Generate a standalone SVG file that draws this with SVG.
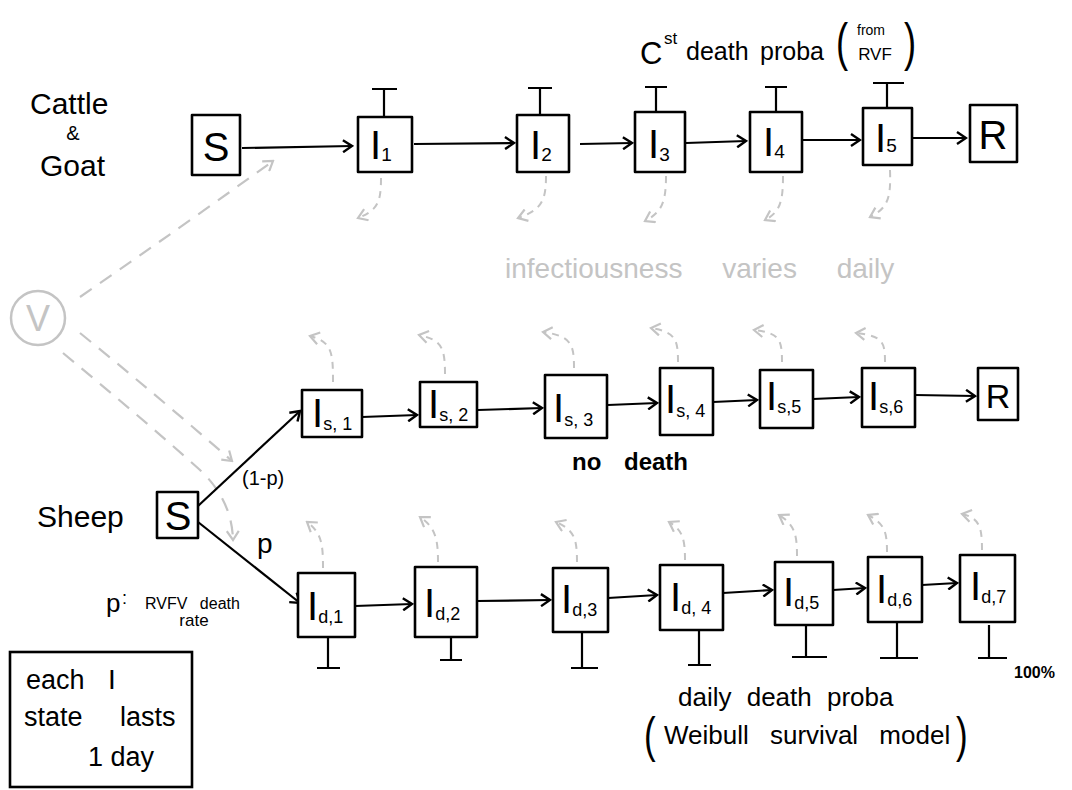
<svg xmlns="http://www.w3.org/2000/svg" width="1072" height="790" viewBox="0 0 1072 790">
<style>
text{font-family:"Liberation Sans",Arial,sans-serif;fill:#000}
.box{fill:#fff;stroke:#000;stroke-width:2.6;stroke-linejoin:round}
.lbl{font-size:40px}
.sub{font-size:19px}
.sub2{font-size:18px}
.arr{fill:none;stroke:#000;stroke-width:2.2;marker-end:url(#ah)}
.bar{fill:none;stroke:#000;stroke-width:2.2}
.gd{fill:none;stroke:#c4c4c4;stroke-width:2;stroke-dasharray:7 6;marker-end:url(#gh)}
.gdl{fill:none;stroke:#c4c4c4;stroke-width:2.2;stroke-dasharray:14 10;marker-end:url(#gh)}
.grey{fill:#c4c4c4}
</style>
<defs>
<marker id="ah" markerUnits="userSpaceOnUse" markerWidth="14" markerHeight="14" refX="12" refY="7" orient="auto">
<path d="M3,1 L12,7 L3,13" fill="none" stroke="#000" stroke-width="2.4"/>
</marker>
<marker id="gh" markerUnits="userSpaceOnUse" markerWidth="14" markerHeight="14" refX="12" refY="7" orient="auto">
<path d="M3,1 L12,7 L3,13" fill="none" stroke="#c4c4c4" stroke-width="2.2"/>
</marker>
</defs>
<rect width="1072" height="790" fill="#fff"/>

<!-- labels -->
<g id="label-cattle">
<text x="30" y="114" font-size="30">Cattle</text>
<text x="73" y="140" font-size="20" text-anchor="middle">&amp;</text>
<text x="40" y="176" font-size="30">Goat</text>
</g>
<g id="label-const-death">
<text x="640" y="64" font-size="31">C</text>
<text x="664" y="44" font-size="17">st</text>
<text x="686" y="60" font-size="25">death</text>
<text x="760" y="60" font-size="25">proba</text>
<text x="836" y="60" font-size="52" transform="translate(836,60) scale(0.7,1) translate(-836,-60)">(</text>
<text x="871" y="35" font-size="14" text-anchor="middle">from</text>
<text x="875" y="60" font-size="17" text-anchor="middle">RVF</text>
<text x="904" y="60" font-size="52" transform="translate(904,60) scale(0.7,1) translate(-904,-60)">)</text>
</g>
<g id="label-infectiousness">
<text x="505" y="278" font-size="28" class="grey" word-spacing="32">infectiousness varies daily</text>
</g>
<g id="label-sheep"><text x="37" y="527" font-size="30">Sheep</text></g>
<g id="label-p-def">
<text x="106" y="612" font-size="26">p</text>
<text x="122" y="604" font-size="18">:</text>
<text x="145" y="609" font-size="16" word-spacing="8">RVFV death</text>
<text x="194" y="626" font-size="17" text-anchor="middle">rate</text>
</g>
<g id="label-no-death"><text x="572" y="470" font-size="24" font-weight="bold" word-spacing="16">no death</text></g>
<g id="label-daily">
<text x="678" y="706" font-size="26" word-spacing="8">daily death proba</text>
<text x="644" y="752" font-size="50" transform="translate(644,752) scale(0.7,1) translate(-644,-752)">(</text>
<text x="664" y="744" font-size="26" word-spacing="14">Weibull survival model</text>
<text x="956" y="752" font-size="50" transform="translate(956,752) scale(0.7,1) translate(-956,-752)">)</text>
</g>
<g id="label-100"><text x="1014" y="678" font-size="16" font-weight="bold">100%</text></g>

<!-- connectors -->
<g id="connectors">
<path class="arr" d="M242,148 L352,146"/>
<path class="arr" d="M414,144 L514,143"/>
<path class="arr" d="M580,144 L632,143"/>
<path class="arr" d="M686,143 L746,141"/>
<path class="arr" d="M803,140 L860,140"/>
<path class="arr" d="M913,138 L966,138"/>
<path class="bar" d="M384,117 V89 M372,89 H397"/>
<path class="bar" d="M540,115 V88 M528,88 H552"/>
<path class="bar" d="M656,112 V87 M645,87 H667"/>
<path class="bar" d="M776,112 V87 M765,87 H787"/>
<path class="bar" d="M887,108 V83 M873,83 H904"/>
<path class="gd" d="M381,178 C381,202 378,210 358,218"/>
<path class="gd" d="M546,176 C546,200 542,210 518,218"/>
<path class="gd" d="M666,176 C666,202 662,212 645,221"/>
<path class="gd" d="M783,176 C783,202 780,212 765,220"/>
<path class="gd" d="M890,170 C891,198 888,208 870,217"/>
<path class="gdl" d="M80,297 Q180,228 273,161"/>
<path class="gdl" d="M80,333 Q160,398 232,461"/>
<path class="gdl" d="M63,353 Q150,425 200,470 Q232,500 233,540"/>
<path class="arr" d="M198,506 L300,411"/>
<path class="arr" d="M198,522 L300,603"/>
<text x="242" y="485" font-size="20">(1-p)</text>
<text x="257" y="553" font-size="28">p</text>
<path class="arr" d="M362,417 L417,415"/>
<path class="arr" d="M478,410 L542,408"/>
<path class="arr" d="M608,405 L657,403"/>
<path class="arr" d="M713,402 L757,400"/>
<path class="arr" d="M813,399 L859,397"/>
<path class="arr" d="M915,395 L975,396"/>
<path class="gd" d="M333,382 C333,352 332,342 310,336"/>
<path class="gd" d="M445,374 C445,348 442,340 419,335"/>
<path class="gd" d="M574,368 C574,345 572,336 543,332"/>
<path class="gd" d="M678,362 C678,340 676,332 651,328"/>
<path class="gd" d="M782,362 C782,340 780,333 754,330"/>
<path class="gd" d="M885,362 C885,342 883,336 856,333"/>
<path class="arr" d="M355,606 L412,604"/>
<path class="arr" d="M477,601 L550,600"/>
<path class="arr" d="M608,598 L657,595"/>
<path class="arr" d="M723,593 L772,590"/>
<path class="arr" d="M833,590 L865,588"/>
<path class="arr" d="M922,585 L957,583"/>
<path class="gd" d="M323,568 C323,545 322,533 307,522"/>
<path class="gd" d="M438,562 C438,540 436,528 420,517"/>
<path class="gd" d="M577,562 C577,540 575,530 556,522"/>
<path class="gd" d="M685,560 C685,540 683,530 669,522"/>
<path class="gd" d="M797,556 C797,535 795,525 779,515"/>
<path class="gd" d="M887,552 C887,532 885,524 868,515"/>
<path class="gd" d="M982,550 C982,528 980,518 962,514"/>
<path class="bar" d="M328,637 V668 M317,668 H340"/>
<path class="bar" d="M451,637 V660 M440,660 H462"/>
<path class="bar" d="M582,632 V668 M571,668 H598"/>
<path class="bar" d="M699,630 V665 M688,665 H711"/>
<path class="bar" d="M806,625 V657 M792,657 H827"/>
<path class="bar" d="M897,622 V658 M880,658 H918"/>
<path class="bar" d="M989,625 V658 M978,658 H1007"/>
</g>

<!-- cattle nodes -->
<g id="cattle-S"><rect class="box" x="192" y="115" width="48" height="60"/><text class="lbl" x="216" y="161" text-anchor="middle" font-size="42">S</text></g>
<g id="cattle-I1"><rect class="box" x="358" y="117" width="54" height="55"/><text class="lbl" x="370" y="159">I<tspan class="sub" dy="2">1</tspan></text></g>
<g id="cattle-I2"><rect class="box" x="517" y="115" width="52" height="57"/><text class="lbl" x="530" y="159">I<tspan class="sub" dy="2">2</tspan></text></g>
<g id="cattle-I3"><rect class="box" x="635" y="112" width="50" height="60"/><text class="lbl" x="648" y="158">I<tspan class="sub" dy="3">3</tspan></text></g>
<g id="cattle-I4"><rect class="box" x="750" y="112" width="52" height="60"/><text class="lbl" x="763" y="156">I<tspan class="sub" dy="2">4</tspan></text></g>
<g id="cattle-I5"><rect class="box" x="863" y="108" width="49" height="57"/><text class="lbl" x="875" y="152">I<tspan class="sub" dy="0">5</tspan></text></g>
<g id="cattle-R"><rect class="box" x="970" y="105" width="47" height="57"/><text class="lbl" x="993" y="149" text-anchor="middle" font-size="38">R</text></g>

<g id="vector-V"><circle cx="38" cy="318" r="27" fill="#fff" stroke="#c4c4c4" stroke-width="2.5"/><text x="38" y="331" font-size="36" text-anchor="middle" class="grey">V</text></g>

<g id="sheep-S"><rect class="box" x="157" y="492" width="41" height="46"/><text x="178" y="530" font-size="40" text-anchor="middle">S</text></g>
<g id="sheep-Is1"><rect class="box" x="302" y="390" width="60" height="47"/><text class="lbl" x="312" y="427" font-size="36">I<tspan class="sub2" dy="3">s, 1</tspan></text></g>
<g id="sheep-Is2"><rect class="box" x="420" y="382" width="57" height="45"/><text class="lbl" x="428" y="418" font-size="36">I<tspan class="sub2" dy="3">s, 2</tspan></text></g>
<g id="sheep-Is3"><rect class="box" x="545" y="375" width="62" height="63"/><text class="lbl" x="553" y="422" font-size="40">I<tspan class="sub2" dy="4">s, 3</tspan></text></g>
<g id="sheep-Is4"><rect class="box" x="660" y="368" width="53" height="67"/><text class="lbl" x="665" y="413" font-size="40">I<tspan class="sub2" dy="4">s, 4</tspan></text></g>
<g id="sheep-Is5"><rect class="box" x="760" y="370" width="53" height="58"/><text class="lbl" x="766" y="410" font-size="38">I<tspan class="sub2" dy="3">s,5</tspan></text></g>
<g id="sheep-Is6"><rect class="box" x="862" y="368" width="53" height="59"/><text class="lbl" x="868" y="410" font-size="38">I<tspan class="sub2" dy="3">s,6</tspan></text></g>
<g id="sheep-R"><rect class="box" x="978" y="368" width="40" height="52"/><text x="998" y="408" font-size="34" text-anchor="middle">R</text></g>

<g id="sheep-Id1"><rect class="box" x="298" y="573" width="57" height="64"/><text class="lbl" x="307" y="620" font-size="40">I<tspan class="sub2" dy="3">d,1</tspan></text></g>
<g id="sheep-Id2"><rect class="box" x="415" y="567" width="62" height="70"/><text class="lbl" x="424" y="617" font-size="40">I<tspan class="sub2" dy="3">d,2</tspan></text></g>
<g id="sheep-Id3"><rect class="box" x="553" y="568" width="55" height="64"/><text class="lbl" x="561" y="613" font-size="38">I<tspan class="sub2" dy="3">d,3</tspan></text></g>
<g id="sheep-Id4"><rect class="box" x="660" y="565" width="63" height="65"/><text class="lbl" x="670" y="611" font-size="40">I<tspan class="sub2" dy="3">d, 4</tspan></text></g>
<g id="sheep-Id5"><rect class="box" x="775" y="562" width="58" height="63"/><text class="lbl" x="783" y="606" font-size="38">I<tspan class="sub2" dy="3">d,5</tspan></text></g>
<g id="sheep-Id6"><rect class="box" x="868" y="557" width="54" height="65"/><text class="lbl" x="876" y="603" font-size="38">I<tspan class="sub2" dy="3">d,6</tspan></text></g>
<g id="sheep-Id7"><rect class="box" x="960" y="555" width="55" height="67"/><text class="lbl" x="970" y="600" font-size="38">I<tspan class="sub2" dy="3">d,7</tspan></text></g>

<g id="legend">
<rect x="10" y="652" width="182" height="135" fill="#fff" stroke="#000" stroke-width="2.6"/>
<text x="26" y="689" font-size="27">each</text>
<text x="108" y="689" font-size="28">I</text>
<text x="24" y="726" font-size="27" word-spacing="30">state lasts</text>
<text x="88" y="766" font-size="27">1 day</text>
</g>
</svg>
